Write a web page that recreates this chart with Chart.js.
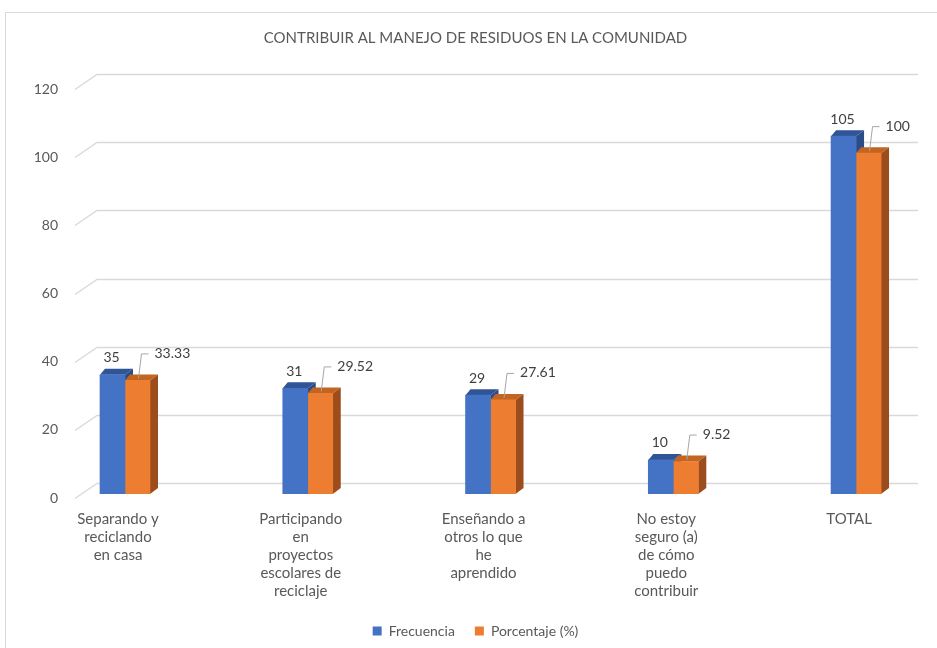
<!DOCTYPE html>
<html>
<head>
<meta charset="utf-8">
<script src="https://cdn.jsdelivr.net/npm/chart.js@4.4.1/dist/chart.umd.min.js"></script>
<style>
  body { margin: 0; background: #fff; }
  canvas { display: block; }
</style>
</head>
<body>
<canvas id="residuosChart" width="937" height="648"></canvas>
<script>
// data
const categorias = [
  ['Separando y', 'reciclando', 'en casa'],
  ['Participando', 'en', 'proyectos', 'escolares de', 'reciclaje'],
  ['Enseñando a', 'otros lo que', 'he', 'aprendido'],
  ['No estoy', 'seguro (a)', 'de cómo', 'puedo', 'contribuir'],
  ['TOTAL']
]
const frecuencia = [35, 31, 29, 10, 105]
const porcentaje = [33.33, 29.52, 27.61, 9.52, 100]
const yTicks = [0, 20, 40, 60, 80, 100, 120]

const fuente = 'Lato, "Open Sans", sans-serif'
const gris = '#595959'

// 3D look: offsets of the bar depth and of the back wall
const barDx = 8, barDy = 6
const wallDx = 22, wallBack = -11, wallFront = 4

const fondo = {
  id: 'fondo',
  beforeDraw(chart) {
    const c = chart.ctx
    c.save()
    c.fillStyle = '#fff'
    c.fillRect(0, 0, chart.width, chart.height)
    c.strokeStyle = '#d9d9d9'
    c.lineWidth = 1
    c.strokeRect(5.5, 12.5, chart.width + 10, chart.height + 10)
    c.restore()
  }
}

const rejilla = {
  id: 'rejilla',
  beforeDatasetsDraw(chart) {
    const c = chart.ctx
    const area = chart.chartArea
    const y = chart.scales.y
    c.save()
    c.strokeStyle = '#d9d9d9'
    c.lineWidth = 1.3
    yTicks.forEach(v => {
      const yp = Math.round(y.getPixelForValue(v)) + 0.5
      c.beginPath()
      c.moveTo(area.left - wallDx, yp + wallFront)
      c.lineTo(area.left, yp + wallBack)
      c.lineTo(area.right, yp + wallBack)
      c.stroke()
    })
    c.restore()
  }
}

const caras3d = {
  id: 'caras3d',
  beforeDatasetsDraw(chart) {
    const c = chart.ctx
    c.save()
    chart.data.datasets.forEach((ds, di) => {
      chart.getDatasetMeta(di).data.forEach(bar => {
        const { x, y, base, width } = bar.getProps(['x', 'y', 'base', 'width'], true)
        const l = x - width / 2, r = x + width / 2
        c.fillStyle = ds.topColor
        c.beginPath()
        c.moveTo(l, y)
        c.lineTo(r, y)
        c.lineTo(r + barDx, y - barDy)
        c.lineTo(l + 5, y - barDy)
        c.closePath()
        c.fill()
        c.fillStyle = ds.sideColor
        c.beginPath()
        c.moveTo(r, y)
        c.lineTo(r + barDx, y - barDy)
        c.lineTo(r + barDx, base - barDy)
        c.lineTo(r, base)
        c.closePath()
        c.fill()
      })
    })
    c.restore()
  }
}

const etiquetas = {
  id: 'etiquetas',
  afterDatasetsDraw(chart) {
    const c = chart.ctx
    c.save()
    c.font = '14px ' + fuente
    c.fillStyle = '#404040'
    c.textBaseline = 'middle'
    chart.getDatasetMeta(0).data.forEach((bar, i) => {
      c.textAlign = 'center'
      c.fillText(frecuencia[i], bar.x - 1, bar.y - 17)
    })
    c.strokeStyle = '#a6a6a6'
    c.lineWidth = 1
    chart.getDatasetMeta(1).data.forEach((bar, i) => {
      const lx = bar.x + 1, ly = bar.y - 27
      c.beginPath()
      c.moveTo(lx, bar.y - 2)
      c.lineTo(lx + 3, ly + 0.5)
      c.lineTo(lx + 10, ly + 0.5)
      c.stroke()
      c.textAlign = 'left'
      c.fillText(porcentaje[i], lx + 16, ly)
    })
    c.restore()
  }
}

new Chart(document.getElementById('residuosChart'), {
  type: 'bar',
  data: {
    datasets: [
      {
        label: 'Frecuencia',
        data: frecuencia.map((v, i) => ({ x: i, y: v })),
        backgroundColor: '#4472C4',
        topColor: '#2F5597',
        sideColor: '#2B4C88',
        borderWidth: 0,
        barThickness: 25
      },
      {
        label: 'Porcentaje (%)',
        data: porcentaje.map((v, i) => ({ x: i, y: v })),
        backgroundColor: '#ED7D31',
        topColor: '#C46421',
        sideColor: '#9C4D1B',
        borderWidth: 0,
        barThickness: 25
      }
    ]
  },
  options: {
    responsive: false,
    animation: false,
    layout: { padding: { left: 33, right: 19 } },
    plugins: {
      title: {
        display: true,
        text: 'CONTRIBUIR AL MANEJO DE RESIDUOS EN LA COMUNIDAD',
        color: gris,
        font: { family: fuente, size: 15, weight: 'normal' },
        padding: { top: 29, bottom: 38 }
      },
      legend: {
        position: 'bottom',
        labels: {
          boxWidth: 9,
          boxHeight: 9,
          padding: 20,
          color: gris,
          font: { family: fuente, size: 14 }
        }
      },
      tooltip: { enabled: false }
    },
    scales: {
      x: {
        type: 'linear',
        offset: false,
        min: -0.1532,
        max: 4.339,
        grid: { display: false },
        border: { display: false },
        afterBuildTicks: scale => {
          scale.ticks = categorias.map((_, i) => ({ value: i }))
        },
        afterFit: scale => { scale.height = 110 },
        ticks: {
          autoSkip: false,
          maxRotation: 0,
          minRotation: 0,
          labelOffset: -7,
          padding: 8,
          color: gris,
          font: { family: fuente, size: 15, lineHeight: 1.2 },
          callback: value => categorias[value]
        }
      },
      y: {
        min: 0,
        max: 120,
        grid: { display: false },
        border: { display: false },
        afterFit: scale => { scale.width = 64 },
        ticks: {
          stepSize: 20,
          padding: 31,
          labelOffset: 4,
          color: gris,
          font: { family: fuente, size: 14 }
        }
      }
    }
  },
  plugins: [fondo, rejilla, caras3d, etiquetas]
})
</script>
</body>
</html>
